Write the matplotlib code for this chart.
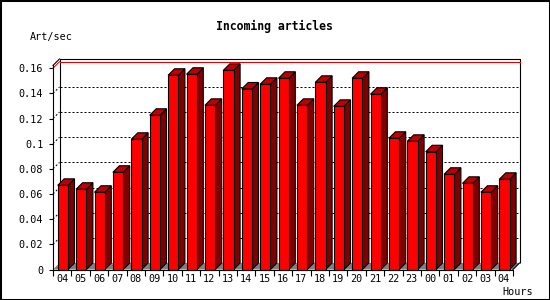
import matplotlib
matplotlib.use("Agg")
import matplotlib.pyplot as plt
from matplotlib.patches import Polygon, Rectangle
import numpy as np

# ---- data ----
hours = ["04", "05", "06", "07", "08", "09", "10", "11", "12", "13", "14", "15", "16",
         "17", "18", "19", "20", "21", "22", "23", "00", "01", "02", "03", "04"]
art_per_sec = [0.0669, 0.0638, 0.0614, 0.0773, 0.1035, 0.1226, 0.1544, 0.1552, 0.1305,
               0.1583, 0.1435, 0.1472, 0.1520, 0.1305, 0.1488, 0.1297, 0.1520, 0.1393,
               0.1043, 0.1019, 0.0936, 0.0757, 0.0685, 0.0614, 0.0717]
y_ticks = [0, 0.02, 0.04, 0.06, 0.08, 0.10, 0.12, 0.14, 0.16]
title = "Incoming articles"
y_label = "Art/sec"
x_label = "Hours"

plt.rcParams['lines.scale_dashes'] = False
MONO = "DejaVu Sans Mono"

W, H = 550, 300
fig = plt.figure(figsize=(W / 100, H / 100), dpi=100)
fig.patch.set_facecolor("white")

n = len(hours)
slot_px = 18.4
px_per_unit = 1258.0
ytop = 0.1622
left_px, zero_px = 53.0, 269.5
ax = fig.add_axes([left_px / W, (H - zero_px) / H, n * slot_px / W, ytop * px_per_unit / H])
ax.set_xlim(0, n)
ax.set_ylim(0, ytop)
ax.set_facecolor("none")

DX = 6.5 / slot_px
DY = 6.5 / px_per_unit
lw = 0.8

# floor
ax.add_patch(Polygon([(0, 0), (n, 0), (n + DX, DY), (DX, DY)], closed=True,
                     facecolor="#808080", edgecolor="none", clip_on=False, zorder=1))
# back wall
ax.add_patch(Rectangle((DX, DY), n, ytop, facecolor="white", edgecolor="none",
                       clip_on=False, zorder=1.5))
ax.plot([DX, DX, n + DX, n + DX], [DY, ytop + DY, ytop + DY, DY], color="black",
        lw=lw, clip_on=False, zorder=2, solid_capstyle="butt")
ax.plot([0, DX], [ytop, ytop + DY], color="black", lw=lw, clip_on=False, zorder=2)
ax.plot([n, n + DX], [0, DY], color="black", lw=lw, clip_on=False, zorder=2)

# grid lines: short diagonal from the front axis, then along the back wall
for v in y_ticks[1:]:
    ax.plot([0, DX], [v, v + DY], color="#e00000" if v >= 0.159 else "black", lw=0.72,
            linestyle="-" if v >= 0.159 else (0, (1.44, 1.44)), clip_on=False, zorder=2.5)
    if v >= 0.159:
        ax.plot([DX, n + DX], [v + DY, v + DY], color="#e00000", lw=0.75,
                clip_on=False, zorder=2.5, snap=True)
    else:
        ax.plot([DX, n + DX], [v + DY, v + DY], color="black", lw=0.72,
                linestyle=(0, (1.44, 1.44)), clip_on=False, zorder=2.5, snap=True)

# bars
a = 4.7 / slot_px
w = 10.3 / slot_px
for i, v in enumerate(art_per_sec):
    x0 = i + a
    x1 = x0 + w
    z = 3 + i * 0.01
    ax.add_patch(Polygon([(x1, 0), (x1 + DX, DY), (x1 + DX, v + DY), (x1, v)], closed=True,
                         facecolor="#800000", edgecolor="black", lw=lw, clip_on=False, zorder=z))
    ax.add_patch(Polygon([(x0, v), (x1, v), (x1 + DX, v + DY), (x0 + DX, v + DY)], closed=True,
                         facecolor="#c00000", edgecolor="black", lw=lw, clip_on=False, zorder=z))
    ax.add_patch(Rectangle((x0, 0), w, v, facecolor="#ff0000", edgecolor="black", lw=lw,
                           clip_on=False, zorder=z + 0.001))

# axes
for s in ["top", "right"]:
    ax.spines[s].set_visible(False)
for s in ["left", "bottom"]:
    ax.spines[s].set_linewidth(lw)
    ax.spines[s].set_zorder(5)

ax.set_yticks(y_ticks)
ax.set_yticklabels(["%g" % t for t in y_ticks], fontfamily=MONO, fontsize=7.3)
ax.tick_params(axis="y", length=3, width=lw, pad=4)

ax.set_xticks(np.arange(n + 1))
ax.set_xticklabels([""] * (n + 1))
ax.tick_params(axis="x", which="major", length=4.5, width=lw)
ax.set_xticks(np.arange(n) + 0.5, minor=True)
ax.set_xticklabels(hours, minor=True, fontfamily=MONO, fontsize=7.3)
ax.tick_params(axis="x", which="minor", length=0, pad=3.5)

fig.text(274 / W, 1 - 26.7 / H, title, ha="center", va="center", fontfamily=MONO,
         fontweight="bold", fontsize=8.3)
fig.text(30 / W, 1 - 36.7 / H, y_label, ha="left", va="center", fontfamily=MONO, fontsize=7.3)
fig.text(533 / W, 1 - 292.3 / H, x_label, ha="right", va="center", fontfamily=MONO, fontsize=7.3)

# outer border
fig.patches.append(Rectangle((0, 0), 1, 1, transform=fig.transFigure, facecolor="none",
                             edgecolor="black", lw=2.2, zorder=10))

fig.savefig("out.png", dpi=100)
